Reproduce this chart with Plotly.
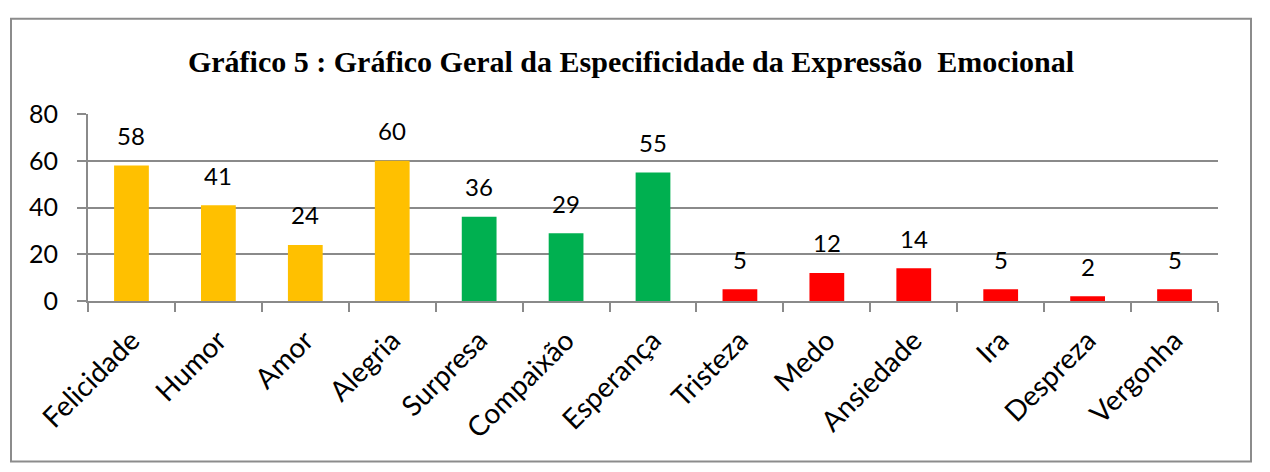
import plotly.graph_objects as go

categories = ["Felicidade", "Humor", "Amor", "Alegria", "Surpresa", "Compaixão", "Esperança",
              "Tristeza", "Medo", "Ansiedade", "Ira", "Despreza", "Vergonha"]
values = [58, 41, 24, 60, 36, 29, 55, 5, 12, 14, 5, 2, 5]
groups = ["pos", "pos", "pos", "pos", "mid", "mid", "mid",
          "neg", "neg", "neg", "neg", "neg", "neg"]
y_ticks = [0, 20, 40, 60, 80]
title_text = "Gráfico 5 : Gráfico Geral da Especificidade da Expressão  Emocional"

group_colors = {"pos": "#FFC000", "mid": "#00B050", "neg": "#FF0000"}
colors = [group_colors[g] for g in groups]

OFF = 8  # page body margin
W, H = 1270 - OFF, 472 - OFF
L, R, T, B = 88 - OFF, 1218 - OFF, 114 - OFF, 300.7 - OFF
GRID = "#8A8A8A"
FONT = "Lato"

fig = go.Figure()
fig.add_trace(go.Bar(x=categories, y=values, marker=dict(color=colors, line=dict(width=0)),
                     width=0.4, showlegend=False))

for c, v in zip(categories, values):
    fig.add_annotation(x=c, y=v, text=str(v), showarrow=False, yanchor="middle",
                       yshift=30, font=dict(family=FONT, size=24, color="#000000"))


def px2x(px):
    return (px - OFF - L) / (R - L)


def py2y(py):
    return (B - (py - OFF)) / (B - T)


# outer chart border
fig.add_shape(type="rect", xref="paper", yref="paper",
              x0=px2x(11), x1=px2x(1251), y0=py2y(461), y1=py2y(19),
              line=dict(color="#8C8C8C", width=2), fillcolor="rgba(0,0,0,0)", layer="below")

fig.update_layout(
    width=W, height=H,
    margin=dict(l=L, r=W - R, t=T, b=H - B, pad=0, autoexpand=False),
    paper_bgcolor="white", plot_bgcolor="white",
    title=dict(text="<b>" + title_text + "</b>", x=(631 - OFF) / W, xref="container",
               xanchor="center", y=1 - (61 - OFF) / H, yref="container", yanchor="middle",
               automargin=False,
               font=dict(family="Liberation Serif", size=30, color="#000000")),
    xaxis=dict(type="category", showgrid=False, showline=True, linecolor=GRID, linewidth=2,
               ticks="outside", tickson="boundaries", ticklen=9, tickcolor=GRID, tickwidth=2,
               tickangle=-45, automargin=False, ticklabelstandoff=10,
               tickfont=dict(family=FONT, size=28, color="#000000"),
               range=[-0.5, len(categories) - 0.5]),
    yaxis=dict(range=[0, 80], tickvals=y_ticks, showgrid=True, gridcolor=GRID, gridwidth=2,
               showline=True, linecolor=GRID, linewidth=2, ticks="outside", ticklen=9,
               tickcolor=GRID, tickwidth=2, zeroline=False, ticklabelstandoff=14,
               automargin=False,
               tickfont=dict(family=FONT, size=25, color="#000000")),
    bargap=0.6,
)

fig.write_html("out.html")
